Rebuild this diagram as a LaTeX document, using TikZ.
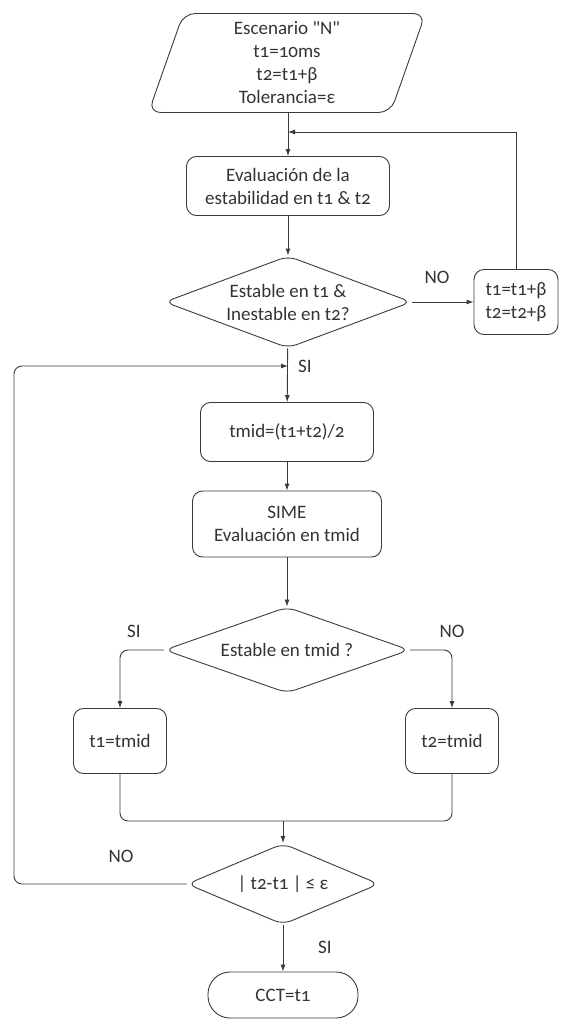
\documentclass[tikz,border=0pt]{standalone}
\usepackage{fontspec}
\setmainfont{Carlito}[Numbers=OldStyle]
\newfontfamily\plano{Carlito}[Numbers=OldStyle]
\usetikzlibrary{shapes.geometric,arrows.meta}
\definecolor{linea}{HTML}{3A3A3A}
\definecolor{texto}{HTML}{333333}
\begin{document}
\begin{tikzpicture}[x=1pt,y=-1pt]
        \tikzstyle{every node}+=[inner sep=0pt, text=texto, font=\fontsize{19}{23}\selectfont, align=center]
        \tikzstyle{caja}=[draw=linea, line width=0.9pt, rounded corners=10pt]
        \tikzstyle{decision}=[draw=linea, line width=0.9pt, diamond, rounded corners=9pt]
        \tikzstyle{flecha}=[draw=linea, line width=0.9pt, -{Latex[length=7pt,width=5pt]}]
        \tikzstyle{linea}=[draw=linea, line width=0.9pt]
        \useasboundingbox (0,0) rectangle (560,1019);
        % nodos
        \node [draw=linea, line width=0.9pt, trapezium, trapezium left angle=67, trapezium right angle=113,
               trapezium stretches body, rounded corners=12pt, minimum width=277pt, minimum height=99pt]
               (inicio) at (287,63) {Escenario {\plano "N"}\\t1=10ms\\t2=t1+β\\Tolerancia=ε};
        \node [caja, minimum width=203pt, minimum height=59pt] (evaluacion) at (288,186) {Evaluación de la\\estabilidad en t1 \& t2};
        \node [decision, aspect=2.7, minimum width=247pt, minimum height=92pt] (estable) at (288,302) {Estable en t1 \&\\Inestable en t2?};
        \node [caja, minimum width=84pt, minimum height=65pt] (incremento) at (516,302) {t1=t1+β\\t2=t2+β};
        \node [caja, minimum width=173pt, minimum height=59pt] (tmid) at (287,432) {tmid=(t1+t2)/2};
        \node [caja, minimum width=189pt, minimum height=66pt] (sime) at (287,524) {SIME\\Evaluación en tmid};
        \node [decision, aspect=2.85, minimum width=245pt, minimum height=86pt] (condicion) at (287,650) {Estable en tmid ?};
        \node [caja, minimum width=93pt, minimum height=65pt] (tuno) at (120,741) {t1=tmid};
        \node [caja, minimum width=93pt, minimum height=65pt] (tdos) at (452,741) {t2=tmid};
        \node [decision, aspect=2.4, minimum width=192pt, minimum height=81pt] (verifica) at (283,884) {| t2-t1 | ≤ ε};
        \node [caja, rounded corners=22pt, minimum width=150pt, minimum height=46pt] (cct) at (283,995) {CCT=t1};
        % etiquetas
        \node (no1) at (437,277) {NO};
        \node (si1) at (305,366) {SI};
        \node (si2) at (134,631) {SI};
        \node (no2) at (452,631) {NO};
        \node (no3) at (121,856) {NO};
        \node (si3) at (325,947) {SI};
        % puntos de union
        \coordinate (retorno) at (288,132);
        \coordinate (entrada) at (288,366);
        \coordinate (izquierda) at (14,366);
        \coordinate (union) at (283,821);
        % conectores
        \draw [flecha] (evaluacion.north |- inicio.south) -- (evaluacion.north);
        \draw [flecha] (incremento.north) |- (retorno);
        \draw [flecha] (evaluacion) -- (estable);
        \draw [flecha] (estable.east) -- (incremento.west);
        \draw [flecha] (estable) -- (tmid);
        \draw [flecha, rounded corners=8pt] (verifica.west) -| (izquierda) -- (entrada);
        \draw [flecha] (tmid) -- (sime);
        \draw [flecha] (sime) -- (condicion);
        \draw [flecha, rounded corners=8pt] (condicion.west) -| (tuno.north);
        \draw [flecha, rounded corners=8pt] (condicion.east) -| (tdos.north);
        \draw [linea, rounded corners=8pt] (tuno.south) |- (union) -| (tdos.south);
        \draw [flecha] (union) -- (verifica.north);
        \draw [flecha] (verifica) -- (cct);
\end{tikzpicture}
\end{document}
